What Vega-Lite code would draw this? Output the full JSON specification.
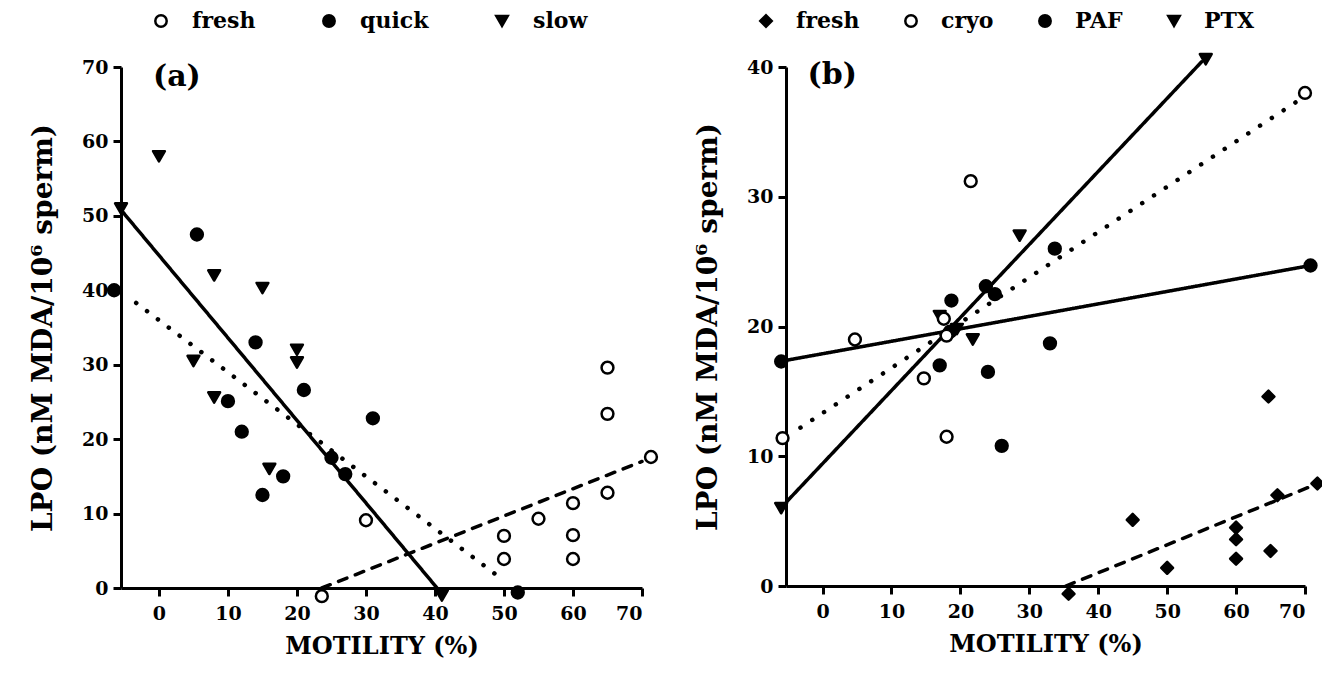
{
  "$schema": "https://vega.github.io/schema/vega-lite/v6.json",
  "background": "white",
  "padding": {"left": 29, "top": 10, "right": 5, "bottom": 5},
  "config": {
    "view": {"stroke": null},
    "font": "DejaVu Serif",
    "axis": {
      "domainColor": "black", "domainWidth": 3, "tickColor": "black", "tickWidth": 3, "tickSize": 8,
      "grid": false, "labelFont": "DejaVu Serif", "labelFontWeight": "bold", "labelFontSize": 19,
      "labelColor": "black", "titleFont": "DejaVu Serif", "titleFontWeight": "bold", "titleFontSize": 24,
      "titleColor": "black", "labelPadding": 8, "titlePadding": 11
    },
    "axisY": {"titleFontSize": 28, "titlePadding": 24, "labelPadding": 5},
    "legend": {
      "orient": "none", "direction": "horizontal", "title": null, "padding": 0,
      "labelFont": "DejaVu Serif", "labelFontWeight": "bold", "labelFontSize": 22, "labelColor": "black",
      "symbolSize": 130, "symbolStrokeWidth": 2.5, "symbolStrokeColor": "black",
      "labelOffset": 20
    }
  },
  "datasets": {
    "pts": [
      {"panel": "a", "group": "slow", "x": 0, "y": 58},
      {"panel": "a", "group": "slow", "x": -5.5, "y": 51},
      {"panel": "a", "group": "slow", "x": 8, "y": 42},
      {"panel": "a", "group": "slow", "x": 15, "y": 40.3},
      {"panel": "a", "group": "slow", "x": 5, "y": 30.5},
      {"panel": "a", "group": "slow", "x": 20, "y": 32},
      {"panel": "a", "group": "slow", "x": 20, "y": 30.3},
      {"panel": "a", "group": "slow", "x": 8, "y": 25.6},
      {"panel": "a", "group": "slow", "x": 16, "y": 16},
      {"panel": "a", "group": "slow", "x": 41, "y": -1},
      {"panel": "a", "group": "quick", "x": -6.5, "y": 40},
      {"panel": "a", "group": "quick", "x": 5.5, "y": 47.5},
      {"panel": "a", "group": "quick", "x": 14, "y": 33},
      {"panel": "a", "group": "quick", "x": 21, "y": 26.6},
      {"panel": "a", "group": "quick", "x": 10, "y": 25.1},
      {"panel": "a", "group": "quick", "x": 12, "y": 21},
      {"panel": "a", "group": "quick", "x": 18, "y": 15},
      {"panel": "a", "group": "quick", "x": 15, "y": 12.5},
      {"panel": "a", "group": "quick", "x": 25, "y": 17.5},
      {"panel": "a", "group": "quick", "x": 27, "y": 15.3},
      {"panel": "a", "group": "quick", "x": 31, "y": 22.8},
      {"panel": "a", "group": "quick", "x": 52, "y": -0.6},
      {"panel": "a", "group": "fresh", "x": 30, "y": 9.1},
      {"panel": "a", "group": "fresh", "x": 23.6, "y": -1.1},
      {"panel": "a", "group": "fresh", "x": 50, "y": 7},
      {"panel": "a", "group": "fresh", "x": 50, "y": 3.9},
      {"panel": "a", "group": "fresh", "x": 55, "y": 9.3},
      {"panel": "a", "group": "fresh", "x": 60, "y": 11.4},
      {"panel": "a", "group": "fresh", "x": 60, "y": 7.1},
      {"panel": "a", "group": "fresh", "x": 60, "y": 3.9},
      {"panel": "a", "group": "fresh", "x": 65, "y": 12.8},
      {"panel": "a", "group": "fresh", "x": 65, "y": 23.4},
      {"panel": "a", "group": "fresh", "x": 65, "y": 29.6},
      {"panel": "a", "group": "fresh", "x": 71.3, "y": 17.6},
      {"panel": "b", "group": "PTX", "x": 55.6, "y": 40.6},
      {"panel": "b", "group": "PTX", "x": 28.6, "y": 27},
      {"panel": "b", "group": "PTX", "x": -6, "y": 6},
      {"panel": "b", "group": "PTX", "x": 21.8, "y": 19},
      {"panel": "b", "group": "PTX", "x": 17, "y": 20.8},
      {"panel": "b", "group": "PTX", "x": 19.5, "y": 19.8},
      {"panel": "b", "group": "PAF", "x": -6, "y": 17.3},
      {"panel": "b", "group": "PAF", "x": 17, "y": 17},
      {"panel": "b", "group": "PAF", "x": 24, "y": 16.5},
      {"panel": "b", "group": "PAF", "x": 26, "y": 10.8},
      {"panel": "b", "group": "PAF", "x": 33, "y": 18.7},
      {"panel": "b", "group": "PAF", "x": 18.7, "y": 22},
      {"panel": "b", "group": "PAF", "x": 23.7, "y": 23.1},
      {"panel": "b", "group": "PAF", "x": 25, "y": 22.5},
      {"panel": "b", "group": "PAF", "x": 33.7, "y": 26},
      {"panel": "b", "group": "PAF", "x": 70.8, "y": 24.7},
      {"panel": "b", "group": "PAF", "x": 18.5, "y": 19.6},
      {"panel": "b", "group": "cryo", "x": 21.5, "y": 31.2},
      {"panel": "b", "group": "cryo", "x": 4.7, "y": 19},
      {"panel": "b", "group": "cryo", "x": -5.8, "y": 11.4},
      {"panel": "b", "group": "cryo", "x": 14.7, "y": 16},
      {"panel": "b", "group": "cryo", "x": 18, "y": 11.5},
      {"panel": "b", "group": "cryo", "x": 18, "y": 19.3},
      {"panel": "b", "group": "cryo", "x": 17.6, "y": 20.6},
      {"panel": "b", "group": "cryo", "x": 70, "y": 38},
      {"panel": "b", "group": "fresh", "x": 64.7, "y": 14.6},
      {"panel": "b", "group": "fresh", "x": 45, "y": 5.1},
      {"panel": "b", "group": "fresh", "x": 50, "y": 1.4},
      {"panel": "b", "group": "fresh", "x": 60, "y": 4.5},
      {"panel": "b", "group": "fresh", "x": 60, "y": 3.6},
      {"panel": "b", "group": "fresh", "x": 60, "y": 2.1},
      {"panel": "b", "group": "fresh", "x": 65, "y": 2.7},
      {"panel": "b", "group": "fresh", "x": 66, "y": 7},
      {"panel": "b", "group": "fresh", "x": 71.8, "y": 7.9},
      {"panel": "b", "group": "fresh", "x": 35.7, "y": -0.6}
    ],
    "lines": [
      {"panel": "a", "line": "a-slow", "style": "solid", "x": -5.5, "y": 50.8},
      {"panel": "a", "line": "a-slow", "style": "solid", "x": 40.3, "y": 0},
      {"panel": "a", "line": "a-quick", "style": "dotted", "x": -3.3, "y": 38.3},
      {"panel": "a", "line": "a-quick", "style": "dotted", "x": 49.7, "y": 1.2},
      {"panel": "a", "line": "a-fresh", "style": "dashed", "x": 23.6, "y": 0},
      {"panel": "a", "line": "a-fresh", "style": "dashed", "x": 70, "y": 17},
      {"panel": "b", "line": "b-PTX", "style": "solid", "x": -5.2, "y": 6.5},
      {"panel": "b", "line": "b-PTX", "style": "solid", "x": 55, "y": 40.4},
      {"panel": "b", "line": "b-PAF", "style": "solid", "x": -5.2, "y": 17.4},
      {"panel": "b", "line": "b-PAF", "style": "solid", "x": 70.8, "y": 24.7},
      {"panel": "b", "line": "b-cryo", "style": "dotted", "x": -3.2, "y": 12.2},
      {"panel": "b", "line": "b-cryo", "style": "dotted", "x": 69, "y": 37.4},
      {"panel": "b", "line": "b-fresh", "style": "dashed", "x": 35.3, "y": 0},
      {"panel": "b", "line": "b-fresh", "style": "dashed", "x": 70.5, "y": 7.6}
    ]
  },
  "bounds": "flush",
  "spacing": 144,
  "resolve": {
    "scale": {"x": "independent", "y": "independent", "shape": "independent", "fill": "independent", "stroke": "independent", "strokeDash": "independent"},
    "legend": {"shape": "independent", "fill": "independent", "stroke": "independent"}
  },
  "hconcat": [
    {
      "width": 521,
      "height": 521,
      "layer": [
        {
          "data": {"name": "lines"},
          "transform": [{"filter": "datum.panel === 'a' && datum.style !== 'dotted'"}],
          "mark": {"type": "line", "color": "black", "strokeWidth": 3.5, "strokeCap": "round", "clip": false},
          "encoding": {
            "x": {"field": "x", "type": "quantitative", "scale": {"domain": [-5.5, 70], "nice": false, "zero": false},
                  "axis": {"values": [0, 10, 20, 30, 40, 50, 60, 70], "title": "MOTILITY (%)"}},
            "y": {"field": "y", "type": "quantitative", "scale": {"domain": [0, 70], "nice": false, "zero": false},
                  "axis": {"values": [0, 10, 20, 30, 40, 50, 60, 70], "title": "LPO (nM MDA/10⁶ sperm)"}},
            "detail": {"field": "line"},
            "strokeDash": {"field": "style", "type": "nominal",
                           "scale": {"domain": ["solid", "dashed"], "range": [[1, 0], [9, 9]]},
                           "legend": null}
          }
        },
        {
          "data": {"name": "lines"},
          "transform": [{"filter": "datum.panel === 'a' && datum.style === 'dotted'"}],
          "mark": {"type": "line", "color": "black", "strokeWidth": 4.5, "strokeCap": "round", "strokeDash": [0.1, 13.5], "clip": false},
          "encoding": {"x": {"field": "x", "type": "quantitative"}, "y": {"field": "y", "type": "quantitative"}, "detail": {"field": "line"}}
        },
        {
          "data": {"name": "pts"},
          "transform": [{"filter": "datum.panel === 'a'"}],
          "mark": {"type": "point", "strokeWidth": 2.5, "size": 140, "opacity": 1, "fillOpacity": 1, "strokeOpacity": 1, "strokeJoin": "round", "clip": false},
          "encoding": {
            "x": {"field": "x", "type": "quantitative"},
            "y": {"field": "y", "type": "quantitative"},
            "shape": {"field": "group", "type": "nominal",
                      "scale": {"domain": ["fresh", "quick", "slow"], "range": ["circle", "circle", "triangle-down"]},
                      "legend": {"legendX": 29, "legendY": -57, "columnPadding": 62, "symbolSize": 130, "symbolStrokeWidth": 2.5, "symbolStrokeColor": "black"}},
            "fill": {"field": "group", "type": "nominal",
                     "scale": {"domain": ["fresh", "quick", "slow"], "range": ["white", "black", "black"]},
                     "legend": {"legendX": 29, "legendY": -57, "columnPadding": 62, "symbolSize": 130, "symbolStrokeWidth": 2.5, "symbolStrokeColor": "black"}},
            "stroke": {"field": "group", "type": "nominal",
                     "scale": {"domain": ["fresh", "quick", "slow"], "range": ["black", "black", "black"]},
                     "legend": {"legendX": 29, "legendY": -57, "columnPadding": 62, "symbolSize": 130, "symbolStrokeWidth": 2.5, "symbolStrokeColor": "black"}}
          }
        },
        {
          "data": {"values": [{}]},
          "mark": {"type": "text", "text": "(a)", "font": "DejaVu Serif", "fontWeight": "bold", "fontSize": 30, "align": "center", "baseline": "middle", "color": "black"},
          "encoding": {"x": {"datum": 2.6, "type": "quantitative"}, "y": {"datum": 68.7, "type": "quantitative"}}
        }
      ]
    },
    {
      "width": 519,
      "height": 519,
      "layer": [
        {
          "data": {"name": "lines"},
          "transform": [{"filter": "datum.panel === 'b' && datum.style !== 'dotted'"}],
          "mark": {"type": "line", "color": "black", "strokeWidth": 3.5, "strokeCap": "round", "clip": false},
          "encoding": {
            "x": {"field": "x", "type": "quantitative", "scale": {"domain": [-5.3, 70], "nice": false, "zero": false},
                  "axis": {"values": [0, 10, 20, 30, 40, 50, 60, 70], "title": "MOTILITY (%)"}},
            "y": {"field": "y", "type": "quantitative", "scale": {"domain": [0, 40], "nice": false, "zero": false},
                  "axis": {"values": [0, 10, 20, 30, 40], "title": "LPO (nM MDA/10⁶ sperm)"}},
            "detail": {"field": "line"},
            "strokeDash": {"field": "style", "type": "nominal",
                           "scale": {"domain": ["solid", "dashed"], "range": [[1, 0], [9, 9]]},
                           "legend": null}
          }
        },
        {
          "data": {"name": "lines"},
          "transform": [{"filter": "datum.panel === 'b' && datum.style === 'dotted'"}],
          "mark": {"type": "line", "color": "black", "strokeWidth": 4.5, "strokeCap": "round", "strokeDash": [0.1, 14], "clip": false},
          "encoding": {"x": {"field": "x", "type": "quantitative"}, "y": {"field": "y", "type": "quantitative"}, "detail": {"field": "line"}}
        },
        {
          "data": {"name": "pts"},
          "transform": [{"filter": "datum.panel === 'b'"}],
          "mark": {"type": "point", "strokeWidth": 2.5, "size": 140, "opacity": 1, "fillOpacity": 1, "strokeOpacity": 1, "strokeJoin": "round", "clip": false},
          "encoding": {
            "x": {"field": "x", "type": "quantitative"},
            "y": {"field": "y", "type": "quantitative"},
            "shape": {"field": "group", "type": "nominal",
                      "scale": {"domain": ["fresh", "cryo", "PAF", "PTX"], "range": ["diamond", "circle", "circle", "triangle-down"]},
                      "legend": {"legendX": -31, "legendY": -57, "columnPadding": 40, "labelOffset": 19, "symbolSize": 130, "symbolStrokeWidth": 2.5, "symbolStrokeColor": "black"}},
            "fill": {"field": "group", "type": "nominal",
                     "scale": {"domain": ["fresh", "cryo", "PAF", "PTX"], "range": ["black", "white", "black", "black"]},
                     "legend": {"legendX": -31, "legendY": -57, "columnPadding": 40, "labelOffset": 19, "symbolSize": 130, "symbolStrokeWidth": 2.5, "symbolStrokeColor": "black"}},
            "stroke": {"field": "group", "type": "nominal",
                     "scale": {"domain": ["fresh", "cryo", "PAF", "PTX"], "range": ["black", "black", "black", "black"]},
                     "legend": {"legendX": -31, "legendY": -57, "columnPadding": 40, "labelOffset": 19, "symbolSize": 130, "symbolStrokeWidth": 2.5, "symbolStrokeColor": "black"}}
          }
        },
        {
          "data": {"values": [{}]},
          "mark": {"type": "text", "text": "(b)", "font": "DejaVu Serif", "fontWeight": "bold", "fontSize": 30, "align": "center", "baseline": "middle", "color": "black"},
          "encoding": {"x": {"datum": 1.4, "type": "quantitative"}, "y": {"datum": 39.4, "type": "quantitative"}}
        }
      ]
    }
  ]
}
